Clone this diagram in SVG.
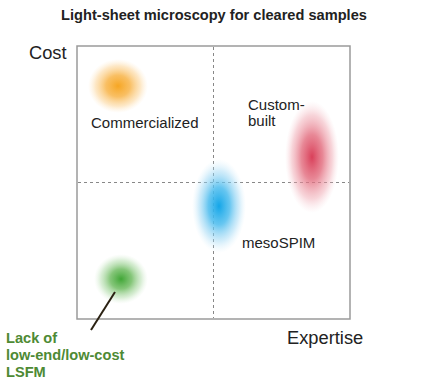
<svg xmlns="http://www.w3.org/2000/svg" width="431" height="384" viewBox="0 0 431 384">
<defs>
<radialGradient id="gOrange"><stop offset="0" stop-color="#f6a623"/><stop offset="0.4" stop-color="#f8b448" stop-opacity="0.85"/><stop offset="0.75" stop-color="#fbcb80" stop-opacity="0.45"/><stop offset="1" stop-color="#fde2b8" stop-opacity="0"/></radialGradient>
<radialGradient id="gRed"><stop offset="0" stop-color="#d9405a"/><stop offset="0.4" stop-color="#e26a7c" stop-opacity="0.8"/><stop offset="0.75" stop-color="#eea0ab" stop-opacity="0.45"/><stop offset="1" stop-color="#f6ccd2" stop-opacity="0"/></radialGradient>
<radialGradient id="gBlue"><stop offset="0" stop-color="#14a6e8"/><stop offset="0.4" stop-color="#4cbcee" stop-opacity="0.85"/><stop offset="0.75" stop-color="#9ad6f4" stop-opacity="0.45"/><stop offset="1" stop-color="#cdebfa" stop-opacity="0"/></radialGradient>
<radialGradient id="gGreen"><stop offset="0" stop-color="#40a636"/><stop offset="0.4" stop-color="#70bc62" stop-opacity="0.85"/><stop offset="0.75" stop-color="#a8d8a0" stop-opacity="0.45"/><stop offset="1" stop-color="#d4ecd0" stop-opacity="0"/></radialGradient>
</defs>
<style>
.t{font-family:"Liberation Sans",Arial,sans-serif;fill:#222}
.ax{font-size:18.3px}
.lb{font-size:15px}
.g{font-family:"Liberation Sans",Arial,sans-serif;font-weight:bold;font-size:14.6px;fill:#4e8a34}
.dash{stroke:#888;stroke-width:1;stroke-dasharray:3,3;fill:none}
</style>
<rect width="431" height="384" fill="#fff"/>
<text class="t" x="214" y="20" font-weight="bold" font-size="14.6" text-anchor="middle" fill="#111">Light-sheet microscopy for cleared samples</text>
<g id="axes">
<rect x="77" y="46" width="273" height="273" fill="none" stroke="#9a9a9a" stroke-width="1.5"/>
<line class="dash" x1="213.5" y1="47" x2="213.5" y2="318"/>
<line class="dash" x1="78" y1="182.5" x2="349" y2="182.5"/>
<text class="t ax" x="29" y="59">Cost</text>
<text class="t ax" x="287" y="344">Expertise</text>
</g>
<g id="commercialized">
<ellipse cx="118" cy="86" rx="30" ry="27" fill="url(#gOrange)"/>
<text class="t lb" x="91" y="128">Commercialized</text>
</g>
<g id="custom-built">
<ellipse cx="312" cy="157" rx="27" ry="56" fill="url(#gRed)"/>
<text class="t lb" x="248" y="110">Custom-</text>
<text class="t lb" x="248" y="126">built</text>
</g>
<g id="mesospim">
<ellipse cx="219" cy="206" rx="27" ry="47" fill="url(#gBlue)"/>
<text class="t lb" x="242" y="248">mesoSPIM</text>
</g>
<g id="lowcost">
<ellipse cx="121" cy="279" rx="27" ry="25" fill="url(#gGreen)"/>
<text class="g" x="6" y="343">Lack of</text>
<text class="g" x="6" y="360">low-end/low-cost</text>
<text class="g" x="6" y="377">LSFM</text>
</g>
<g id="connectors">
<line x1="115" y1="292" x2="91" y2="330" stroke="#2b2213" stroke-width="2"/>
</g>
</svg>
